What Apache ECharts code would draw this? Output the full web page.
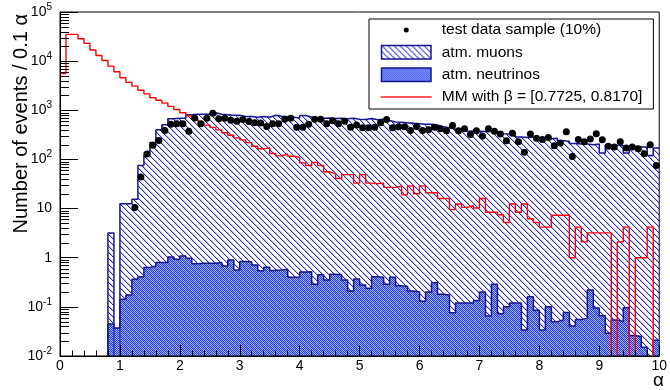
<!DOCTYPE html>
<html>
<head>
<meta charset="utf-8">
<script src="https://cdn.jsdelivr.net/npm/echarts@6/dist/echarts.min.js"></script>
<style>
  html, body { margin: 0; padding: 0; background: #fff; }
  #chart { width: 670px; height: 390px; }
</style>
</head>
<body>
<div id="chart"></div>
<script>
// bins of width 0.1 on alpha = 0 .. 10 (100 bins), values per bin
const binWidth = 0.1
const muons = [
  0, 0, 0, 0, 0, 0, 0, 0, 3.2, 0,
  12.5, 12.5, 15.5, 75, 120, 220, 400, 510, 670, 690,
  690, 810, 830, 830, 830, 890, 830, 810, 790, 790,
  750, 750, 720, 750, 720, 790, 760, 735, 720, 700,
  780, 730, 700, 690, 700, 680, 690, 670, 690, 660,
  650, 680, 640, 660, 620, 580, 570, 560, 545, 535,
  520, 520, 500, 460, 440, 410, 390, 375, 380, 375,
  370, 375, 365, 335, 330, 340, 285, 280, 285, 270,
  275, 265, 270, 240, 235, 210, 205, 205, 200, 205,
  135, 195, 195, 190, 135, 185, 180, 180, 120, 170
]
const neutrinos = [
  0, 0, 0, 0, 0, 0, 0, 0, 0.045, 0.037,
  0.143, 0.174, 0.366, 0.41, 0.63, 0.68, 0.8, 0.8, 1.03, 0.93,
  1.09, 0.98, 0.75, 0.77, 0.77, 0.77, 0.8, 0.68, 0.9, 0.56,
  0.84, 0.82, 0.71, 0.54, 0.64, 0.55, 0.56, 0.58, 0.40, 0.40,
  0.51, 0.52, 0.29, 0.45, 0.35, 0.46, 0.45, 0.35, 0.21, 0.37,
  0.28, 0.24, 0.41, 0.40, 0.29, 0.40, 0.27, 0.26, 0.21, 0.20,
  0.13, 0.20, 0.31, 0.18, 0.175, 0.076, 0.12, 0.12, 0.12, 0.134,
  0.20, 0.065, 0.29, 0.072, 0.10, 0.12, 0.12, 0.034, 0.16, 0.085,
  0.034, 0.10, 0.05, 0.054, 0.077, 0.041, 0.055, 0.059, 0.22, 0.095,
  0.066, 0.029, 0.054, 0.05, 0.096, 0.026, 0.025, 0.015, 0, 0.021
]
const mmModel = [
  5600, 35000, 35000, 28600, 23000, 16800, 13000, 10300, 7900, 6100,
  4600, 3700, 3100, 2550, 2160, 1800, 1600, 1400, 1200, 1035,
  890, 770, 660, 580, 500, 450, 400, 350, 310, 275,
  250, 220, 185, 165, 172, 132, 118, 129, 116, 110,
  85, 75, 87, 75, 56, 51, 41, 49, 49, 33,
  49, 33, 32, 33, 27, 27, 29, 19, 29, 20,
  29, 21, 21, 16, 16, 9.5, 12.4, 10.6, 11.4, 10.3,
  16, 8.4, 8.4, 7.5, 5.2, 12.4, 8.4, 12.4, 6.2, 5.2,
  4.2, 4.2, 7.3, 7.3, 7.3, 1.0, 4.2, 2.1, 3.2, 3.2,
  3.2, 3.2, 0, 2.1, 4.2, 0, 1.0, 1.0, 4.2, 0
]
const testData = [
  0, 0, 0, 0, 0, 0, 0, 0, 0, 0,
  0, 0, 10.5, 44, 129, 194, 242, 386, 520, 530,
  530, 375, 700, 530, 690, 870, 670, 690, 630, 600,
  650, 590, 560, 550, 470, 530, 530, 660, 690, 450,
  450, 520, 660, 660, 530, 610, 530, 600, 450, 500,
  440, 440, 450, 560, 650, 440, 460, 460, 390, 470,
  390, 400, 450, 420, 385, 490, 385, 420, 320, 385,
  300, 420, 375, 330, 240, 340, 230, 140, 330, 270,
  255, 280, 190, 215, 365, 115, 255, 230, 260, 335,
  250, 185, 180, 230, 170, 180, 165, 130, 200, 75
]
const seriesNames = [
  'test data sample (10%)',
  'atm. muons',
  'atm. neutrinos',
  'MM with β = [0.7725, 0.8170]'
]
const yMin = 0.01
const yMax = 100000

const FONT = '"Liberation Sans", Arial, Helvetica, sans-serif'
const EMPTY = 1e-4 // empty bins go below the log axis and get clipped

// histogram outline: one point per bin left edge, plus the right edge of the last bin
function stepPoints(vals) {
  const pts = vals.map((v, i) => [+(i * binWidth).toFixed(2), v > 0 ? v : EMPTY])
  pts.push([+(vals.length * binWidth).toFixed(2), pts[pts.length - 1][1]])
  return pts
}

function hatchPattern() {
  const c = document.createElement('canvas')
  c.width = 6
  c.height = 6
  const g = c.getContext('2d')
  g.fillStyle = 'rgba(40,40,215,0.3)'
  for (let i = 0; i < 6; i++) g.fillRect((i + 1) % 6, i, 1, 1)
  g.fillStyle = '#2525d2'
  for (let i = 0; i < 6; i++) g.fillRect(i, i, 1, 1)
  return c
}

function checkerPattern() {
  const c = document.createElement('canvas')
  c.width = 2
  c.height = 2
  const g = c.getContext('2d')
  g.fillStyle = '#1f3ae8'
  g.fillRect(0, 0, 1, 1)
  g.fillRect(1, 1, 1, 1)
  g.fillStyle = 'rgba(60,85,245,0.4)'
  g.fillRect(1, 0, 1, 1)
  g.fillRect(0, 1, 1, 1)
  return c
}

const hatch = { image: hatchPattern(), repeat: 'repeat' }
const checker = { image: checkerPattern(), repeat: 'repeat' }

// ROOT style minor ticks on the log axis (2..9 per decade)
const minorTicks = []
for (let d = Math.log10(yMin); d < Math.log10(yMax); d++) {
  for (let m = 2; m <= 9; m++) minorTicks.push([0, m * Math.pow(10, d)])
}

const chart = echarts.init(document.getElementById('chart'))

const options = {
  animation: false,
  backgroundColor: '#fff',
  textStyle: { fontFamily: FONT },
  grid: {
    left: 60,
    right: 6,
    top: 12,
    bottom: 34,
    show: true,
    borderColor: '#000',
    borderWidth: 1,
    backgroundColor: 'transparent',
    z: 10,
  },
  xAxis: {
    type: 'value',
    min: 0,
    max: 10,
    interval: 1,
    z: 10,
    axisLine: { show: true, onZero: false, lineStyle: { color: '#000', width: 1 } },
    axisTick: { show: true, inside: true, length: 11, lineStyle: { color: '#000', width: 1 } },
    minorTick: { show: true, splitNumber: 5, length: 5.5, lineStyle: { color: '#000', width: 1 } },
    splitLine: { show: false },
    minorSplitLine: { show: false },
    axisLabel: { margin: 3, fontSize: 14, color: '#000', fontFamily: FONT },
  },
  yAxis: {
    type: 'log',
    logBase: 10,
    min: yMin,
    max: yMax,
    splitNumber: 7,
    z: 10,
    axisLine: { show: true, onZero: false, lineStyle: { color: '#000', width: 1 } },
    axisTick: { show: true, inside: true, length: 18, lineStyle: { color: '#000', width: 1 } },
    splitLine: { show: false },
    axisLabel: {
      margin: 8,
      color: '#000',
      fontFamily: FONT,
      fontSize: 14,
      formatter(value) {
        const e = Math.round(Math.log10(value))
        if (e === 0) return '1'
        if (e === 1) return '10'
        return '{b|10}{s|' + e + '}'
      },
      rich: {
        b: { fontSize: 14, fontFamily: FONT, color: '#000', lineHeight: 16 },
        s: { fontSize: 10, fontFamily: FONT, color: '#000', lineHeight: 12, padding: [0, 0, 10, 0] },
      },
    },
  },
  legend: {
    orient: 'vertical',
    left: 369,
    top: 19,
    padding: [3, 11, 4, 11],
    itemGap: 6,
    itemWidth: 56,
    itemHeight: 15,
    borderColor: '#000',
    borderWidth: 1,
    backgroundColor: '#fff',
    selectedMode: false,
    z: 20,
    textStyle: { fontFamily: FONT, fontSize: 15.5, color: '#000' },
    data: [
      {
        name: seriesNames[0],
        icon: 'path://M0,0 M56,15 M23,7.5 A2.5,2.5,0,1,1,28,7.5 A2.5,2.5,0,1,1,23,7.5 Z',
        itemStyle: { color: '#000', borderWidth: 0 },
      },
      {
        name: seriesNames[1],
        icon: 'path://M0.75,0.75 L50.25,0.75 L50.25,14.25 L0.75,14.25 Z M0,0 M56,15',
        itemStyle: { color: hatch, borderColor: '#16168f', borderWidth: 1.5 },
      },
      {
        name: seriesNames[2],
        icon: 'path://M0.75,0.75 L50.25,0.75 L50.25,14.25 L0.75,14.25 Z M0,0 M56,15',
        itemStyle: { color: checker, borderColor: '#16168f', borderWidth: 1.5 },
      },
      {
        name: seriesNames[3],
        icon: 'path://M0,6.8 L51,6.8 L51,8.2 L0,8.2 Z M0,0 M56,15',
        itemStyle: { color: '#ff2020', borderWidth: 0 },
      },
    ],
  },
  graphic: [
    {
      type: 'text',
      x: 21,
      y: 14,
      rotation: Math.PI / 2,
      z: 100,
      style: {
        text: 'Number of events / 0.1 α',
        font: '20px ' + FONT,
        fill: '#000',
        align: 'right',
        verticalAlign: 'middle',
        textAlign: 'right',
        textVerticalAlign: 'middle',
      },
    },
    {
      type: 'text',
      x: 664,
      y: 381,
      z: 100,
      style: {
        text: 'α',
        font: '19px ' + FONT,
        fill: '#000',
        align: 'right',
        verticalAlign: 'middle',
        textAlign: 'right',
        textVerticalAlign: 'middle',
      },
    },
  ],
  series: [
    {
      name: seriesNames[1],
      type: 'line',
      step: 'end',
      symbol: 'none',
      z: 2,
      clip: true,
      data: stepPoints(muons),
      lineStyle: { color: '#16168f', width: 1.5 },
      itemStyle: { color: '#16168f' },
      areaStyle: { color: hatch, origin: 'start', opacity: 1 },
    },
    {
      name: seriesNames[2],
      type: 'line',
      step: 'end',
      symbol: 'none',
      z: 3,
      clip: true,
      data: stepPoints(neutrinos),
      lineStyle: { color: '#16168f', width: 1.5 },
      itemStyle: { color: '#16168f' },
      areaStyle: { color: checker, origin: 'start', opacity: 1 },
    },
    {
      name: seriesNames[3],
      type: 'line',
      step: 'end',
      symbol: 'none',
      z: 4,
      clip: true,
      data: stepPoints(mmModel),
      lineStyle: { color: '#ff0000', width: 1.4 },
      itemStyle: { color: '#ff0000' },
    },
    {
      name: seriesNames[0],
      type: 'scatter',
      symbol: 'circle',
      symbolSize: 7,
      z: 5,
      data: testData
        .map((v, i) => [+((i + 0.5) * binWidth).toFixed(2), v])
        .filter(p => p[1] > 0),
      itemStyle: { color: '#000', opacity: 1 },
    },
    {
      name: 'minor ticks',
      type: 'custom',
      z: 11,
      clip: false,
      silent: true,
      data: minorTicks,
      renderItem(params, api) {
        const p = api.coord([api.value(0), api.value(1)])
        const y = Math.round(p[1]) + 0.5
        return {
          type: 'line',
          shape: { x1: p[0], y1: y, x2: p[0] + 9, y2: y },
          style: { stroke: '#000', lineWidth: 1 },
        }
      },
    },
  ],
}

chart.setOption(options, true)
</script>
</body>
</html>
